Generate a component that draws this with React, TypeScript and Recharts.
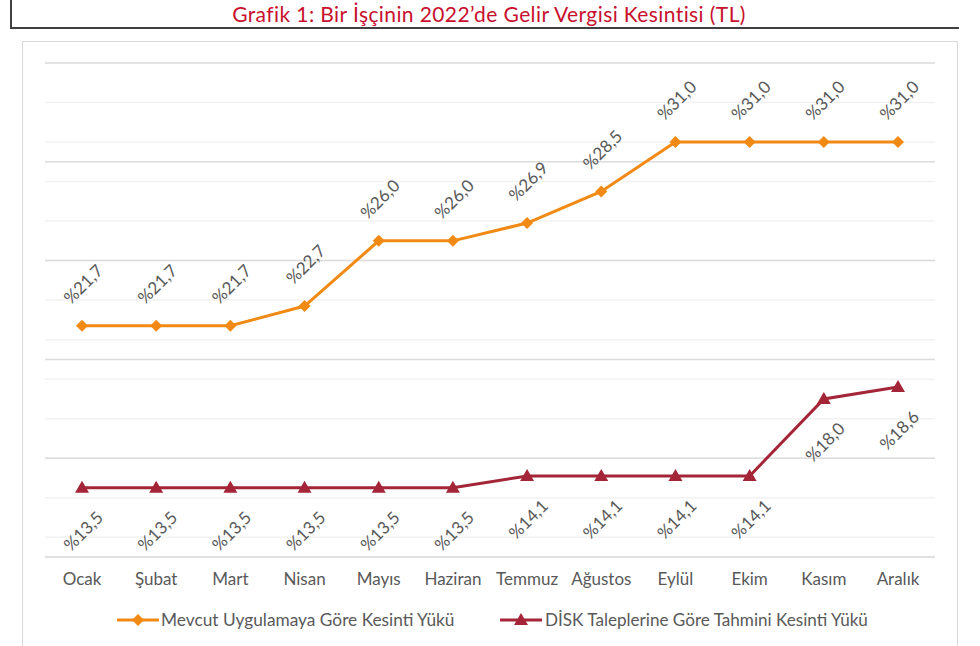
import { CartesianGrid, LabelList, Line, LineChart, ReferenceLine, XAxis, YAxis } from 'recharts';

const months = ['Ocak', 'Şubat', 'Mart', 'Nisan', 'Mayıs', 'Haziran', 'Temmuz', 'Ağustos', 'Eylül', 'Ekim', 'Kasım', 'Aralık'];
const mevcut = [21.7, 21.7, 21.7, 22.7, 26.0, 26.0, 26.9, 28.5, 31.0, 31.0, 31.0, 31.0];
const disk = [13.5, 13.5, 13.5, 13.5, 13.5, 13.5, 14.1, 14.1, 14.1, 14.1, 18.0, 18.6];
const yTicks = [10, 11, 12, 13, 14, 15, 16, 17, 18, 19, 20, 21, 22, 23, 24, 25, 26, 27, 28, 29, 30, 31, 32, 33, 34, 35];
const majorTicks = [15, 20, 25, 30, 35];

const ORANGE = '#F18A14';
const RED = '#A32537';
const TEXT = '#595959';
const FONT = 'Lato, "Open Sans", sans-serif';

const data = months.map((m, i) => ({ month: m, mevcut: mevcut[i], disk: disk[i] }));

const fmt = (v: number) => `%${v.toFixed(1).replace('.', ',')}`;

const Diamond = (props: any) => {
  const { cx, cy } = props;
  if (cx == null || cy == null) return null;
  return <path d={`M${cx},${cy - 6}L${cx + 6},${cy}L${cx},${cy + 6}L${cx - 6},${cy}Z`} fill={ORANGE} />;
};

const Triangle = (props: any) => {
  const { cx, cy } = props;
  if (cx == null || cy == null) return null;
  return <path d={`M${cx},${cy - 7}L${cx + 7},${cy + 5}L${cx - 7},${cy + 5}Z`} fill={RED} />;
};

const makeLabel = (dy: number) => (props: any) => {
  const { x, y, value } = props;
  const cx = x + 1;
  const cy = y + dy;
  return (
    <text
      x={cx}
      y={cy}
      fill={TEXT}
      fontSize={17}
      fontFamily={FONT}
      textAnchor="middle"
      dominantBaseline="central"
      transform={`rotate(-45, ${cx}, ${cy})`}
    >
      {fmt(value)}
    </text>
  );
};

export default function App() {
  return (
    <div style={{ position: 'absolute', left: 0, top: 0, width: 980, height: 646, overflow: 'hidden', background: '#fff', fontFamily: FONT }}>
      <div
        style={{
          position: 'absolute',
          left: 10,
          top: 0,
          width: 949,
          height: 29,
          boxSizing: 'border-box',
          borderLeft: '2px solid #404040',
          borderBottom: '2px solid #404040',
        }}
      />
      <div
        style={{
          position: 'absolute',
          left: 0,
          top: 0,
          width: 978,
          height: 28,
          lineHeight: '28px',
          textAlign: 'center',
          color: '#C8102E',
          fontSize: 21,
          letterSpacing: 0.4,
          fontFamily: FONT,
        }}
      >
        Grafik 1: Bir İşçinin 2022’de Gelir Vergisi Kesintisi (TL)
      </div>
      <div
        style={{
          position: 'absolute',
          left: 22,
          top: 41,
          width: 936,
          height: 640,
          boxSizing: 'border-box',
          border: '1px solid #d9d9d9',
        }}
      />
      <div style={{ position: 'absolute', left: 22, top: 41 }}>
        <LineChart width={936} height={605} data={data} margin={{ top: 22, right: 23, left: 23, bottom: 59 }}>
          <CartesianGrid horizontal vertical={false} stroke="#f2f2f2" strokeWidth={1.5} />
          <XAxis
            dataKey="month"
            padding={{ left: 37, right: 37 }}
            axisLine={{ stroke: '#d9d9d9', strokeWidth: 1.5 }}
            tickLine={false}
            tickMargin={10}
            tick={{ fill: TEXT, fontSize: 17, fontFamily: FONT }}
            height={30}
          />
          <YAxis hide type="number" domain={[10, 35]} ticks={yTicks} />
          {majorTicks.map((t) => (
            <ReferenceLine key={t} y={t} stroke="#dcdcdc" strokeWidth={1.5} />
          ))}
          <Line
            dataKey="mevcut"
            stroke={ORANGE}
            strokeWidth={3}
            dot={<Diamond />}
            activeDot={false}
            isAnimationActive={false}
          >
            <LabelList dataKey="mevcut" content={makeLabel(-42)} />
          </Line>
          <Line
            dataKey="disk"
            stroke={RED}
            strokeWidth={3}
            dot={<Triangle />}
            activeDot={false}
            isAnimationActive={false}
          >
            <LabelList dataKey="disk" content={makeLabel(43)} />
          </Line>
        </LineChart>
      </div>
      <div style={{ position: 'absolute', left: 117, top: 609, display: 'flex', alignItems: 'center', color: TEXT, fontSize: 17.3, fontFamily: FONT, whiteSpace: 'nowrap' }}>
        <svg width={42} height={20} style={{ marginRight: 2 }}>
          <line x1={0} y1={10} x2={42} y2={10} stroke={ORANGE} strokeWidth={3} />
          <path d="M21,4L27,10L21,16L15,10Z" fill={ORANGE} />
        </svg>
        <span>Mevcut Uygulamaya Göre Kesinti Yükü</span>
      </div>
      <div style={{ position: 'absolute', left: 500, top: 609, display: 'flex', alignItems: 'center', color: TEXT, fontSize: 17.1, fontFamily: FONT, whiteSpace: 'nowrap' }}>
        <svg width={42} height={20} style={{ marginRight: 3 }}>
          <line x1={0} y1={10} x2={42} y2={10} stroke={RED} strokeWidth={3} />
          <path d="M21,3L28,15L14,15Z" fill={RED} />
        </svg>
        <span>DİSK Taleplerine Göre Tahmini Kesinti Yükü</span>
      </div>
    </div>
  );
}
